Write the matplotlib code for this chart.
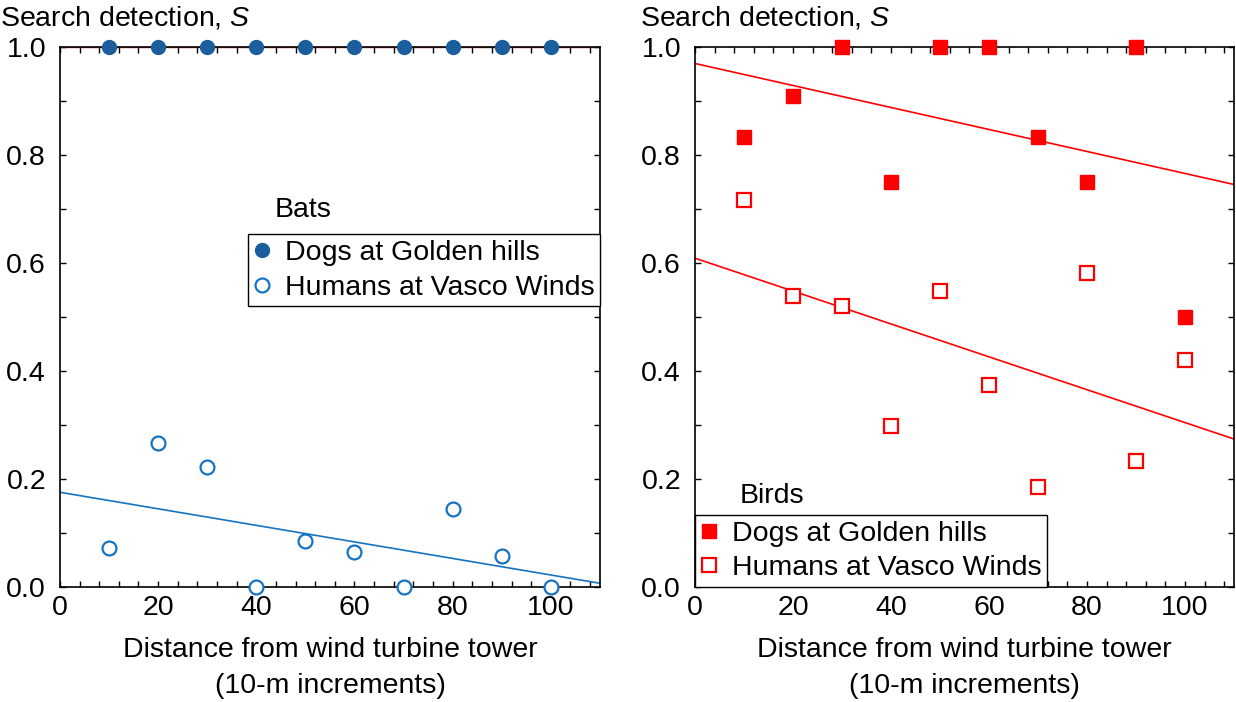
import numpy as np
import matplotlib
matplotlib.use("Agg")
import matplotlib.pyplot as plt
from matplotlib.ticker import MultipleLocator

plt.rcParams['font.family'] = ['Liberation Sans', 'DejaVu Sans']
plt.rcParams['font.size'] = 20.5
plt.rcParams['mathtext.fontset'] = 'custom'
plt.rcParams['mathtext.it'] = 'Liberation Sans:italic'
plt.rcParams['mathtext.rm'] = 'Liberation Sans'

dist = [10, 20, 30, 40, 50, 60, 70, 80, 90, 100]
bats_dogs = [1.0, 1.0, 1.0, 1.0, 1.0, 1.0, 1.0, 1.0, 1.0, 1.0]
bats_humans = [0.072, 0.267, 0.222, 0.0, 0.085, 0.065, 0.0, 0.144, 0.057, 0.0]
birds_dogs = [0.833, 0.909, 1.0, 0.75, 1.0, 1.0, 0.833, 0.75, 1.0, 0.5]
birds_humans = [0.717, 0.539, 0.52, 0.298, 0.548, 0.374, 0.185, 0.581, 0.233, 0.42]

blue_dark = '#1a5e9e'
blue = '#1673c4'
red = '#ff0000'
fs = 20.5

fig = plt.figure(figsize=(12.36, 7.02), dpi=100)
ax1 = fig.add_axes([0.0485, 0.1638, 0.4369, 0.7692])
ax2 = fig.add_axes([0.5623, 0.1638, 0.4361, 0.7692])

xfit = np.array([0, 110])


def fit_line(ax, y, color):
    k, b = np.polyfit(dist, y, 1)
    ax.plot(xfit, k * xfit + b, color=color, lw=1.2, zorder=2)


def style(ax):
    ax.set_xlim(0, 110)
    ax.set_ylim(0, 1.0)
    ax.xaxis.set_major_locator(MultipleLocator(20))
    ax.xaxis.set_minor_locator(MultipleLocator(4))
    ax.yaxis.set_major_locator(MultipleLocator(0.2))
    ax.yaxis.set_minor_locator(MultipleLocator(0.1))
    ax.yaxis.set_major_formatter(matplotlib.ticker.FormatStrFormatter('%.1f'))
    ax.tick_params(which='both', direction='in', top=True, right=True,
                   length=4, width=1, labelsize=fs)
    ax.tick_params(axis='x', pad=6)
    ax.tick_params(axis='y', pad=10)
    for s in ax.spines.values():
        s.set_linewidth(1.2)
    ax.set_xlabel("Distance from wind turbine tower\n(10-m increments)",
                  fontsize=fs, labelpad=11, linespacing=1.5)


def make_legend(ax, **kw):
    leg = ax.legend(frameon=True, fancybox=False, edgecolor='black',
                    framealpha=1, handlelength=0.6, handletextpad=0.5,
                    borderpad=0.2, labelspacing=0.3, borderaxespad=0,
                    fontsize=fs, **kw)
    leg.get_frame().set_linewidth(1.0)
    return leg


# Bats
ax1.plot(xfit, [1.0, 1.0], color='#c0392b', lw=1.0, zorder=2)
fit_line(ax1, bats_humans, blue)
ax1.plot(dist, bats_dogs, 'o', ms=10, color=blue_dark, mec=blue_dark,
         clip_on=False, zorder=4, label='Dogs at Golden hills')
ax1.plot(dist, bats_humans, 'o', ms=10, mfc='white', mec=blue, mew=1.6,
         clip_on=False, zorder=4, label='Humans at Vasco Winds')
style(ax1)
make_legend(ax1, loc='lower right', bbox_to_anchor=(1.0, 0.52))
ax1.text(0.398, 0.686, "Bats", transform=ax1.transAxes, fontsize=fs,
         ha='left', va='baseline')

# Birds
fit_line(ax2, birds_dogs, red)
fit_line(ax2, birds_humans, red)
ax2.plot(dist, birds_dogs, 's', ms=10, color=red, mec=red,
         clip_on=False, zorder=4, label='Dogs at Golden hills')
ax2.plot(dist, birds_humans, 's', ms=10, mfc='white', mec=red, mew=1.6,
         clip_on=False, zorder=4, label='Humans at Vasco Winds')
style(ax2)
make_legend(ax2, loc='lower left')
ax2.text(0.083, 0.155, "Birds", transform=ax2.transAxes, fontsize=fs,
         ha='left', va='baseline')

fig.text(0.0, 0.974, "Search detection, $\\it{S}$", fontsize=fs, va='center', ha='left')
fig.text(0.518, 0.974, "Search detection, $\\it{S}$", fontsize=fs, va='center', ha='left')

fig.savefig("out.png", dpi=100)
